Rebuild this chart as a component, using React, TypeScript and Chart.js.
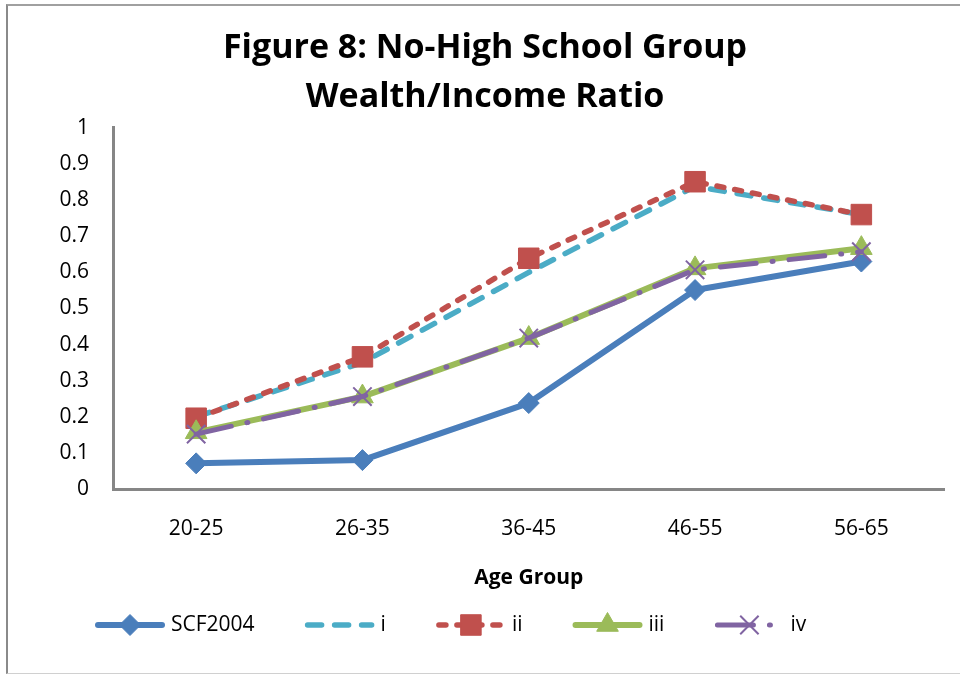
import React, { useEffect, useRef } from 'react';
import { Chart, registerables } from 'chart.js';
import { drawPoint } from 'chart.js/helpers';

Chart.register(...registerables);

// ---- data ----
const categories = ['20-25', '26-35', '36-45', '46-55', '56-65'];
const seriesNames = ['SCF2004', 'i', 'ii', 'iii', 'iv'];
const scf2004 = [0.071, 0.08, 0.238, 0.551, 0.63];
const seriesI = [0.2, 0.35, 0.6, 0.838, 0.76];
const seriesII = [0.196, 0.366, 0.639, 0.851, 0.76];
const seriesIII = [0.157, 0.256, 0.418, 0.611, 0.667];
const seriesIV = [0.152, 0.256, 0.418, 0.607, 0.657];
const yMin = 0;
const yMax = 1;
const yStep = 0.1;
const titleLines = ['Figure 8: No-High School Group', 'Wealth/Income Ratio'];
const xAxisTitle = 'Age Group';

const FONT = '"Open Sans", "DejaVu Sans", sans-serif';

const legendPlugin = {
  id: 'lineLegend',
  afterDraw(chart: any) {
    const ctx = chart.ctx as CanvasRenderingContext2D;
    const y = 625;
    let x = 95;
    const lineLen = 70;
    ctx.save();
    ctx.font = `21px ${FONT}`;
    ctx.textBaseline = 'middle';
    ctx.textAlign = 'left';
    chart.data.datasets.forEach((ds: any) => {
      ctx.save();
      ctx.strokeStyle = ds.borderColor;
      ctx.lineWidth = ds.borderWidth;
      ctx.lineCap = 'round';
      ctx.setLineDash(ds.borderDash || []);
      ctx.beginPath();
      ctx.moveTo(x + 3, y);
      ctx.lineTo(x + lineLen - 3, y);
      ctx.stroke();
      ctx.restore();
      if (ds.pointRadius > 0) {
        ctx.save();
        ctx.setLineDash([]);
        ctx.fillStyle = ds.pointBackgroundColor;
        ctx.strokeStyle = ds.pointBorderColor;
        ctx.lineWidth = ds.pointBorderWidth;
        drawPoint(
          ctx,
          { pointStyle: ds.pointStyle, radius: ds.pointRadius, rotation: 0, borderWidth: ds.pointBorderWidth } as any,
          x + lineLen / 2,
          y
        );
        ctx.restore();
      }
      ctx.fillStyle = '#000';
      const tx = x + lineLen + 6;
      ctx.fillText(ds.label, tx, y);
      x = tx + ctx.measureText(ds.label).width + 50;
    });
    ctx.restore();
  },
};

export default function App() {
  const canvasRef = useRef<HTMLCanvasElement | null>(null);

  useEffect(() => {
    if (!canvasRef.current) return;
    const common = {
      tension: 0,
      borderCapStyle: 'round',
      borderJoinStyle: 'round',
      fill: false,
    };
    const chart = new Chart(canvasRef.current, {
      type: 'line',
      data: {
        labels: categories,
        datasets: [
          {
            ...common,
            label: seriesNames[0],
            data: scf2004,
            borderColor: '#4A7EBB',
            backgroundColor: '#4A7EBB',
            borderWidth: 6,
            pointStyle: 'rectRot',
            pointRadius: 10.5,
            pointBackgroundColor: '#4A7EBB',
            pointBorderColor: '#4A7EBB',
            pointBorderWidth: 1,
            order: 4,
          },
          {
            ...common,
            label: seriesNames[1],
            data: seriesI,
            borderColor: '#4BACC6',
            backgroundColor: '#4BACC6',
            borderWidth: 5.5,
            borderDash: [14, 13],
            pointRadius: 0,
            pointBackgroundColor: '#4BACC6',
            pointBorderColor: '#4BACC6',
            pointBorderWidth: 0,
            order: 3,
          },
          {
            ...common,
            label: seriesNames[2],
            data: seriesII,
            borderColor: '#C0504D',
            backgroundColor: '#C0504D',
            borderWidth: 5.5,
            borderDash: [7, 11],
            pointStyle: 'rect',
            pointRadius: 14.5,
            pointBackgroundColor: '#C0504D',
            pointBorderColor: '#C0504D',
            pointBorderWidth: 1,
            order: 2,
          },
          {
            ...common,
            label: seriesNames[3],
            data: seriesIII,
            borderColor: '#9BBB59',
            backgroundColor: '#9BBB59',
            borderWidth: 6,
            pointStyle: 'triangle',
            pointRadius: 12.5,
            pointBackgroundColor: '#9BBB59',
            pointBorderColor: '#9BBB59',
            pointBorderWidth: 1,
            order: 1,
          },
          {
            ...common,
            label: seriesNames[4],
            data: seriesIV,
            borderColor: '#8064A2',
            backgroundColor: '#8064A2',
            borderWidth: 5,
            borderDash: [36, 16, 1, 16],
            pointStyle: 'crossRot',
            pointRadius: 13,
            pointBackgroundColor: '#8064A2',
            pointBorderColor: '#8064A2',
            pointBorderWidth: 2,
            order: 0,
          },
        ] as any,
      },
      options: {
        animation: false,
        responsive: true,
        maintainAspectRatio: false,
        layout: { padding: { left: 24, right: 14, top: 0, bottom: 0 } },
        plugins: {
          legend: { display: false },
          tooltip: { enabled: false },
          title: {
            display: true,
            text: titleLines,
            color: '#000',
            font: { family: FONT, size: 34, weight: 'bold', lineHeight: 1.44 },
            padding: { top: 24, bottom: 6 },
          },
        },
        scales: {
          x: {
            offset: true,
            grid: { display: false, drawTicks: false },
            border: { display: true, color: '#868686', width: 3 },
            ticks: { color: '#000', font: { family: FONT, size: 21 }, padding: 27 },
            title: {
              display: true,
              text: xAxisTitle,
              color: '#000',
              font: { family: FONT, size: 21, weight: 'bold' },
              padding: { top: 0, bottom: 86 },
            },
            afterFit(scale: any) {
              scale.height = 188;
            },
          },
          y: {
            min: yMin,
            max: yMax,
            grid: { display: false, drawTicks: false },
            border: { display: true, color: '#868686', width: 3 },
            ticks: {
              stepSize: yStep,
              color: '#000',
              font: { family: FONT, size: 21 },
              padding: 24,
              callback: (v: any) => String(Number(Number(v).toFixed(1))),
            },
            afterFit(scale: any) {
              scale.width = 89;
            },
          },
        },
      } as any,
      plugins: [legendPlugin],
    });
    return () => chart.destroy();
  }, []);

  return (
    <div style={{ position: 'fixed', left: 0, top: 0, width: 960, height: 677, background: '#fff' }}>
      <div
        style={{
          position: 'absolute',
          left: 6,
          top: 4,
          width: 960,
          height: 670,
          borderLeft: '2.5px solid #8a8a8a',
          borderTop: '2px solid #a0a0a0',
          borderBottom: '1px solid #d0d0d0',
          boxSizing: 'border-box',
        }}
      />
      <div style={{ position: 'absolute', left: 0, top: 0, width: 960, height: 677 }}>
        <canvas ref={canvasRef} />
      </div>
    </div>
  );
}
